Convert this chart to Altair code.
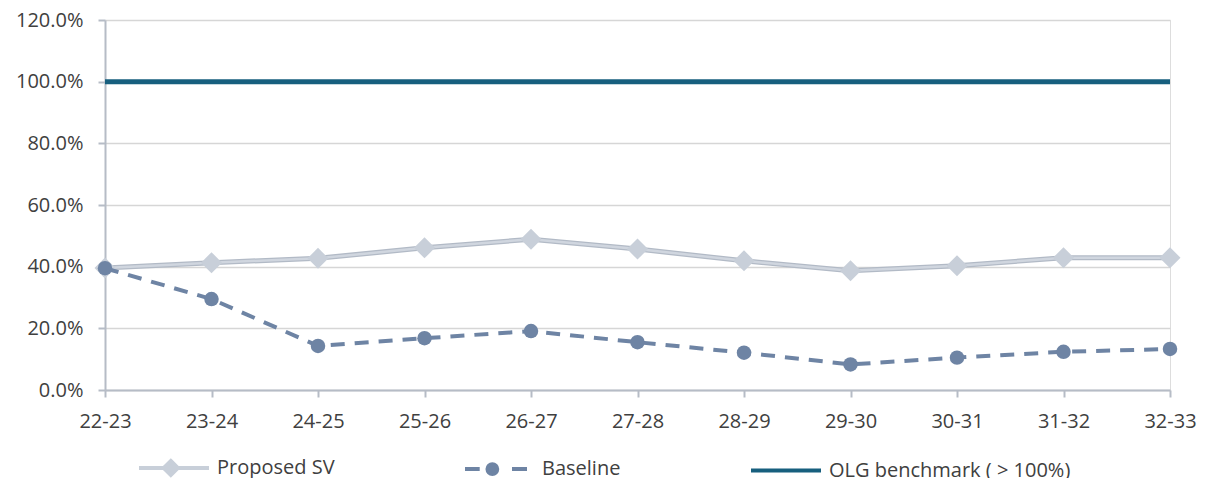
import altair as alt
import pandas as pd

years = ["22-23", "23-24", "24-25", "25-26", "26-27", "27-28",
         "28-29", "29-30", "30-31", "31-32", "32-33"]
proposed_sv = [0.396, 0.413, 0.427, 0.461, 0.489, 0.457, 0.419, 0.387, 0.403, 0.429, 0.429]
baseline = [0.395, 0.295, 0.143, 0.168, 0.191, 0.155, 0.121, 0.083, 0.105, 0.124, 0.133]
olg_benchmark = [1.0, 1.0, 1.0, 1.0, 1.0, 1.0, 1.0, 1.0, 1.0, 1.0, 1.0]

series_names = ["Proposed SV", "Baseline", "OLG benchmark ( > 100%)"]
series_colors = ["#c8cfd9", "#6e84a4", "#175f7e"]
y_ticks = [0, 0.2, 0.4, 0.6, 0.8, 1.0, 1.2]

rows = []
for name, vals in zip(series_names, [proposed_sv, baseline, olg_benchmark]):
    for yr, v in zip(years, vals):
        rows.append({"year": yr, "value": v, "series": name})
df = pd.DataFrame(rows)

FONT = "Open Sans"
AXIS_COL = "#b6bcc6"
TEXT_COL = "#404040"

x_enc = alt.X("year:N", sort=years, title=None,
              scale=alt.Scale(type="point", padding=0),
              axis=alt.Axis(labelAngle=0, labelFontSize=20, labelFont=FONT, labelColor=TEXT_COL,
                            domainColor=AXIS_COL, domainWidth=2, tickColor=AXIS_COL, tickWidth=2,
                            tickSize=7, labelPadding=14, grid=False))
y_enc = alt.Y("value:Q", title=None,
              scale=alt.Scale(domain=[0, 1.2], nice=False, zero=True),
              axis=alt.Axis(format=".1%", values=y_ticks, labelFontSize=20, labelFont=FONT,
                            labelColor=TEXT_COL, domainColor=AXIS_COL, domainWidth=2,
                            tickColor=AXIS_COL, tickWidth=2, tickSize=7, labelPadding=15,
                            grid=True, gridColor="#d6d6d6", gridWidth=1.5))

base = alt.Chart(df).encode(x=x_enc, y=y_enc)

prop = base.transform_filter(alt.datum.series == "Proposed SV")
basel = base.transform_filter(alt.datum.series == "Baseline")
bench = base.transform_filter(alt.datum.series == "OLG benchmark ( > 100%)")

prop_outline = prop.mark_line(color="#b2bac6", strokeWidth=5)
prop_line = prop.mark_line(color="#d0d6df", strokeWidth=2.5)
prop_pts = prop.mark_point(shape="diamond", filled=True, size=440, color="#c8cfd9", opacity=1)
base_line = basel.mark_line(color="#6e84a4", strokeWidth=4, strokeDash=[14, 10])
base_pts = basel.mark_point(shape="circle", filled=True, size=210, color="#6e84a4", opacity=1)
bench_line = bench.mark_line(color="#175f7e", strokeWidth=5)

sym_paths = [
    "M-3.5,0L3.5,0M-0.32,-0.7L0.38,0L-0.32,0.7L-1.02,0Z",
    "M-3.4,0L-1.93,0M1.3,0L2.8,0M-1.155,0A0.49,0.49,0,1,0,-0.175,0A0.49,0.49,0,1,0,-1.155,0Z",
    "M-3.5,0L3.5,0",
]

leg = alt.Legend(title=None, orient="none", legendX=57, legendY=436, direction="horizontal",
                 columns=3, columnPadding=122, labelFont=FONT, labelFontSize=20, labelLimit=500,
                 labelColor=TEXT_COL, labelOffset=31, symbolSize=400, symbolStrokeWidth=4)

legend_layer = alt.Chart(df).transform_filter("false").mark_point(
    filled=True, strokeWidth=4, opacity=1
).encode(
    fill=alt.Fill("series:N", scale=alt.Scale(domain=series_names, range=series_colors), legend=leg),
    stroke=alt.Stroke("series:N", scale=alt.Scale(domain=series_names, range=series_colors), legend=leg),
    shape=alt.Shape("series:N", scale=alt.Scale(domain=series_names, range=sym_paths), legend=leg),
)

chart = alt.layer(
    prop_outline, prop_line, prop_pts, base_line, base_pts, bench_line, legend_layer
).properties(
    width=1065, height=370,
    autosize=alt.AutoSizeParams(type="none"),
    padding={"left": 97, "top": 12, "right": 33, "bottom": 88},
).configure_view(stroke=None).configure(background="white")

chart.save("out.html", embed_options={"renderer": "svg", "actions": False})
